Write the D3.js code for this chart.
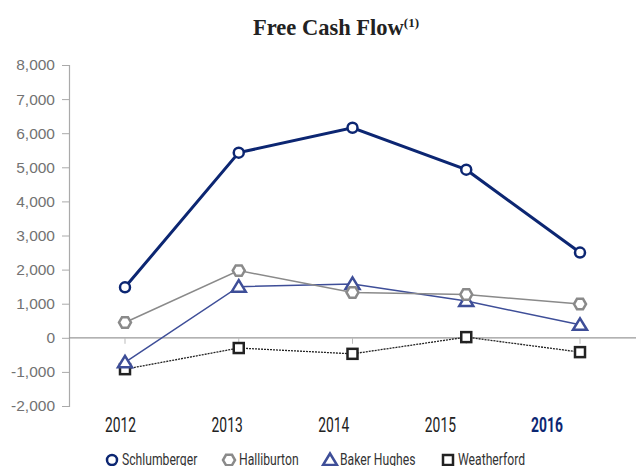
<!DOCTYPE html>
<html lang="en">
<head>
    <meta charset="UTF-8">
    <title>Free Cash Flow</title>
    <style>
        body { margin: 0; background: #fff; }
        .narrow { font-family: 'Roboto', 'Liberation Sans', sans-serif; }
    </style>
</head>
<body>
    <div id="chart"></div>
    <script src="https://d3js.org/d3.v7.min.js"></script>
    <script>
        // Data
        const years = ['2012', '2013', '2014', '2015', '2016'];
        const schlumberger = [1480, 5430, 6160, 4930, 2500];
        const halliburton = [450, 1970, 1330, 1270, 990];
        const bakerHughes = [-720, 1500, 1580, 1080, 380];
        const weatherford = [-920, -300, -470, 20, -420];
        const yTicks = [-2000, -1000, 0, 1000, 2000, 3000, 4000, 5000, 6000, 7000, 8000];

        const series = [
            { name: 'Schlumberger', values: schlumberger, color: '#0c2672', width: 3, dash: null, shape: 'circle' },
            { name: 'Halliburton', values: halliburton, color: '#8a8a8a', width: 1.5, dash: null, shape: 'hexagon' },
            { name: 'Baker Hughes', values: bakerHughes, color: '#3e4e98', width: 1.5, dash: null, shape: 'triangle' },
            { name: 'Weatherford', values: weatherford, color: '#222222', width: 1.3, dash: '2,1', shape: 'square' }
        ];

        const width = 637, height = 466;
        const svg = d3.select('#chart').append('svg')
            .attr('width', width)
            .attr('height', height);

        const x = d3.scalePoint().domain(years).range([125, 580]);
        // the year labels sit a little left of the points in the original
        const xLabel = d3.scalePoint().domain(years).range([120.5, 547]);
        const y = d3.scaleLinear().domain([-2000, 8000]).range([406, 65]);
        const axisX = 69;

        // condensed text: Roboto squeezed horizontally
        function narrowText(g, tx, ty, txt, size, squeeze) {
            return g.append('text')
                .attr('class', 'narrow')
                .attr('transform', `translate(${tx},${ty}) scale(${squeeze},1)`)
                .style('font-size', size + 'px')
                .text(txt);
        }

        // title
        const title = svg.append('text')
            .attr('x', 253).attr('y', 35)
            .style('font-family', "'Liberation Serif', 'Times New Roman', serif")
            .style('font-weight', 'bold')
            .style('font-size', '22.5px')
            .style('fill', '#222');
        title.append('tspan').text('Free Cash Flow');
        title.append('tspan').attr('dy', -8).style('font-size', '13px').text('(1)');

        // y axis
        const fmt = d3.format(',');
        const yAxis = svg.append('g')
            .attr('transform', `translate(${axisX},0)`)
            .call(d3.axisLeft(y).tickValues(yTicks).tickSize(7).tickPadding(7)
                .tickFormat(d => fmt(d).replace('\u2212', '-')));
        yAxis.select('.domain').attr('stroke', '#aaa').attr('stroke-width', 1.2);
        yAxis.selectAll('.tick line').attr('stroke', '#aaa');
        yAxis.selectAll('.tick text')
            .style('font-family', "'Liberation Sans', Arial, sans-serif")
            .style('font-size', '15.5px')
            .style('fill', '#727272');

        // zero line with category ticks
        svg.append('line')
            .attr('x1', axisX).attr('x2', 636)
            .attr('y1', y(0)).attr('y2', y(0))
            .attr('stroke', '#999').attr('stroke-width', 1.2);
        svg.selectAll('.xtick').data(years).enter().append('line')
            .attr('x1', d => x(d)).attr('x2', d => x(d))
            .attr('y1', y(0)).attr('y2', y(0) + 6)
            .attr('stroke', '#bbb');

        // x labels
        years.forEach(d => {
            narrowText(svg, xLabel(d), 432, d, 19.5, 0.71)
                .attr('text-anchor', 'middle')
                .style('font-weight', d === '2016' ? 'bold' : 'normal')
                .style('fill', d === '2016' ? '#0c2672' : '#222');
        });

        function drawMarker(g, shape, color, cx, cy) {
            if (shape === 'circle') {
                g.append('circle').attr('cx', cx).attr('cy', cy).attr('r', 5)
                    .attr('fill', '#fff').attr('stroke', color).attr('stroke-width', 2.5);
            } else if (shape === 'hexagon') {
                const r = 6;
                const pts = d3.range(6).map(i => {
                    const a = Math.PI / 3 * i;
                    return [cx + r * Math.cos(a), cy + r * Math.sin(a)];
                });
                g.append('polygon').attr('points', pts.map(p => p.join(',')).join(' '))
                    .attr('fill', '#fff').attr('stroke', color).attr('stroke-width', 2.5);
            } else if (shape === 'triangle') {
                const pts = [[cx, cy - 6.5], [cx + 7, cy + 5], [cx - 7, cy + 5]];
                g.append('polygon').attr('points', pts.map(p => p.join(',')).join(' '))
                    .attr('fill', '#fff').attr('stroke', color).attr('stroke-width', 2.5);
            } else {
                g.append('rect').attr('x', cx - 5).attr('y', cy - 5).attr('width', 10).attr('height', 10)
                    .attr('fill', '#fff').attr('stroke', color).attr('stroke-width', 2.5);
            }
        }

        const line = d3.line().x((d, i) => x(years[i])).y(d => y(d));

        // draw in reverse so Schlumberger stays on top
        series.slice().reverse().forEach(s => {
            const g = svg.append('g');
            g.append('path')
                .datum(s.values)
                .attr('d', line)
                .attr('fill', 'none')
                .attr('stroke', s.color)
                .attr('stroke-width', s.width)
                .attr('stroke-dasharray', s.dash);
            s.values.forEach((v, i) => drawMarker(g, s.shape, s.color, x(years[i]), y(v)));
        });

        // legend
        const legendX = [112, 229, 330, 448];
        series.forEach((s, i) => {
            const g = svg.append('g');
            drawMarker(g, s.shape, s.color, legendX[i], 460);
            narrowText(g, legendX[i] + 10, 465, s.name, 16, 0.76)
                .style('fill', '#333');
        });
    </script>
</body>
</html>
